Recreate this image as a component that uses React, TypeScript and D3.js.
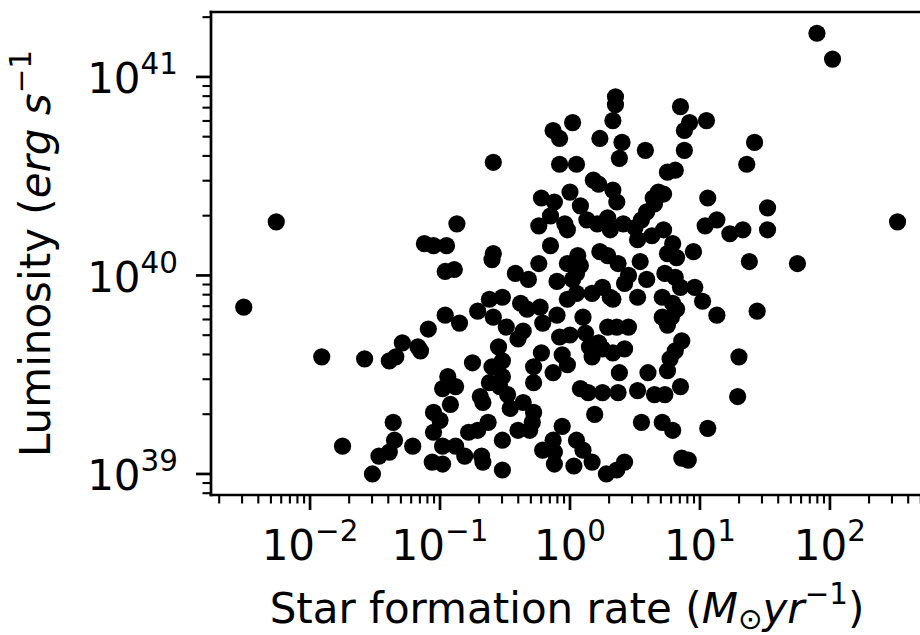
import React from 'react';
import * as d3 from 'd3';

// log10 of star formation rate (M_sun / yr)
const sfrLog10 = [
  -2.51, -2.26, -1.91, -1.75, -1.58, -1.52, -1.47, -1.39, -1.36, -1.35, -1.39, -1.34, -1.29,
  0.02, -0.13, -0.08, -0.59, -0.08, 0.05, -0.22, -0.12, 0.0, -0.15, -0.24, -0.04, -0.02, -0.87,
  -1.12, -1.05, -0.95, -0.15, -0.59, -0.6, -0.96, -0.89, -0.42, -0.24, -0.02, -0.32, -0.1, 0.02,
  -0.62, -0.52, -0.38, -0.71, -0.59, -0.49, -0.33, -0.23, -0.21, -0.1, -0.02, 0.05, -0.96, -0.85,
  -1.09, -1.17, -1.15, -0.4, -0.36, -0.08, 0.0, -0.22, -0.06, -0.13, -0.02, -0.55, -0.52, -0.6,
  -0.75, -0.28, -0.28, -0.94, -0.98, -0.88, -0.62, -0.54, -0.52, -0.69, -0.67, -0.48, -0.46, -0.36,
  -0.28, -0.29, -0.92, -1.05, -1.0, -1.05, -1.21, -0.98, -0.88, -0.81, -1.06, -0.98, -0.78, -0.71,
  -0.63, -0.68, -0.67, -0.52, -0.52, -0.4, -0.31, -0.06, -0.13, -0.21, -0.12, 0.03, -0.12,
  0.35, 0.35, 0.33, 0.23, 0.4, 0.38, 0.58, 0.85, 0.92, 1.05, 0.88, 0.88, 1.42, 1.36, 0.75, 0.81,
  0.18, 0.22, 0.33, 0.36, 0.68, 0.72, 0.64, 0.65, 0.59, 0.55, 0.08, 0.13, 0.21, 0.29, 0.31, 0.41,
  0.5, 0.52, 0.63, 0.72, 1.06, 1.04, 1.13, 1.23, 1.33, 1.52, 1.52,
  0.95, 0.79, 0.75, 0.82, 1.38, 0.23, 0.29, 0.37, 0.06, 0.08, 0.05, 0.54, 0.59, 0.45, 0.42, 0.73,
  0.81, 0.85, 0.96, 1.02, 1.13, 1.44, 0.25, 0.17, 0.31, 0.33, 0.52, 0.71, 0.79, 0.82, 0.71, 0.75,
  0.78, 0.1, 0.12, 0.15, 0.17, 0.29, 0.36, 0.45, 0.22, 0.25, 0.33, 0.42, 0.38, 0.6, 0.75, 0.77,
  0.81, 0.86, 1.3, 1.29, 0.08, 0.14, 0.25, 0.37, 0.52, 0.65, 0.73, 0.85, 0.19, 0.55, 0.71, 0.79,
  1.06, 0.05, 0.1, 0.17, 0.28, 0.36, 0.42, 0.86, 0.91,
  1.9, 2.02, 2.52, 1.75,
];

// log10 of luminosity (erg / s)
const lumLog10 = [
  39.84, 40.27, 39.59, 39.14, 39.58, 39.0, 39.09, 39.11, 39.26, 39.17, 39.57, 39.59, 39.66,
  40.77, 40.73, 40.69, 40.57, 40.56, 40.56, 40.39, 40.37, 40.42, 40.3, 40.25, 40.26, 40.23, 40.26,
  40.16, 40.15, 40.15, 40.15, 40.11, 40.08, 40.02, 40.03, 40.01, 40.06, 40.06, 39.98, 39.97, 39.98,
  39.88, 39.89, 39.86, 39.82, 39.79, 39.74, 39.83, 39.84, 39.76, 39.8, 39.88, 39.91, 39.8, 39.76,
  39.73, 39.64, 39.62, 39.68, 39.72, 39.69, 39.7, 39.61, 39.6, 39.51, 39.55, 39.64, 39.57, 39.54,
  39.56, 39.54, 39.46, 39.49, 39.43, 39.44, 39.46, 39.44, 39.49, 39.39, 39.36, 39.4, 39.33, 39.36,
  39.31, 39.26, 39.35, 39.31, 39.27, 39.21, 39.14, 39.14, 39.14, 39.09, 39.06, 39.05, 39.21, 39.22,
  39.26, 39.09, 39.06, 39.17, 39.02, 39.22, 39.22, 39.24, 39.17, 39.12, 39.05, 39.04, 39.11,
  40.9, 40.86, 40.78, 40.69, 40.67, 40.59, 40.63, 40.85, 40.77, 40.78, 40.73, 40.63, 40.67, 40.56,
  40.52, 40.53, 40.48, 40.46, 40.43, 40.37, 40.42, 40.41, 40.39, 40.36, 40.32, 40.28, 40.35, 40.28,
  40.26, 40.29, 40.23, 40.26, 40.24, 40.18, 40.2, 40.23, 40.39, 40.25, 40.28, 40.21, 40.23, 40.34,
  40.23,
  40.12, 40.16, 40.11, 40.09, 40.07, 40.12, 40.1, 40.06, 40.1, 40.05, 40.01, 40.07, 39.98, 40.0,
  39.96, 40.01, 39.99, 39.94, 39.94, 39.87, 39.8, 39.82, 39.94, 39.91, 39.89, 39.88, 39.89, 39.89,
  39.86, 39.83, 39.79, 39.75, 39.79, 39.79, 39.71, 39.64, 39.59, 39.74, 39.74, 39.74, 39.66, 39.63,
  39.61, 39.63, 39.51, 39.51, 39.52, 39.58, 39.62, 39.67, 39.59, 39.39, 39.43, 39.41, 39.41, 39.41,
  39.42, 39.4, 39.4, 39.44, 39.3, 39.26, 39.26, 39.22, 39.23, 39.17, 39.12, 39.06, 39.0, 39.02,
  39.06, 39.08, 39.07,
  41.22, 41.09, 40.27, 40.06,
];

const xTickExponents = [-2, -1, 0, 1, 2];
const yTickExponents = [39, 40, 41];

const FONT = "'DejaVu Sans', sans-serif";
const FS = 42;
const SUP = 29.4;

function fmtExp(e: number) {
  return e < 0 ? '\u2212' + Math.abs(e) : String(e);
}

export default function App() {
  const W = 920;
  const H = 635;
  const left = 211;
  const right = 923;
  const top = 12;
  const bottom = 495;

  const x = d3.scaleLog().domain([Math.pow(10, -2.762), Math.pow(10, 2.716)]).range([left, right]);
  const y = d3.scaleLog().domain([Math.pow(10, 38.894), Math.pow(10, 41.327)]).range([bottom, top]);

  const points = sfrLog10.map((v, i) => ({ sfr: Math.pow(10, v), lum: Math.pow(10, lumLog10[i]) }));

  const isMajor = (v: number) => Math.abs(Math.log10(v) - Math.round(Math.log10(v))) < 1e-9;
  const xTicks = x.ticks();
  const yTicks = y.ticks();

  return (
    <svg width={W} height={H} style={{ position: 'absolute', left: 0, top: 0, background: '#fff' }}>
      <rect x={0} y={0} width={W} height={H} fill="#fff" />
      <defs>
        <clipPath id="plotclip">
          <rect x={left} y={top} width={right - left} height={bottom - top} />
        </clipPath>
      </defs>

      <g clipPath="url(#plotclip)">
        {points.map((p, i) => (
          <circle key={i} cx={x(p.sfr)} cy={y(p.lum)} r={8.6} fill="#000" />
        ))}
      </g>

      {/* x ticks */}
      {xTicks.map((t, i) => {
        const major = isMajor(t);
        const px = x(t);
        return (
          <line key={'xt' + i} x1={px} x2={px} y1={bottom} y2={bottom + (major ? 15 : 8.5)}
            stroke="#000" strokeWidth={major ? 2.7 : 2.1} />
        );
      })}
      {/* y ticks */}
      {yTicks.map((t, i) => {
        const major = isMajor(t);
        const py = y(t);
        return (
          <line key={'yt' + i} x1={left} x2={left - (major ? 15 : 8.5)} y1={py} y2={py}
            stroke="#000" strokeWidth={major ? 2.7 : 2.1} />
        );
      })}

      {/* spines */}
      <line x1={left} x2={left} y1={top} y2={bottom} stroke="#000" strokeWidth={2.7} strokeLinecap="square" />
      <line x1={left} x2={right} y1={top} y2={top} stroke="#000" strokeWidth={2.7} strokeLinecap="square" />
      <line x1={left} x2={right} y1={bottom} y2={bottom} stroke="#000" strokeWidth={2.7} strokeLinecap="square" />
      <line x1={right} x2={right} y1={top} y2={bottom} stroke="#000" strokeWidth={2.7} />

      {/* x tick labels */}
      {xTickExponents.map((e) => (
        <text key={'xl' + e} x={x(Math.pow(10, e))} y={560} textAnchor="middle"
          fontFamily={FONT} fontSize={FS} fill="#000">
          10<tspan dy={-19} fontSize={SUP}>{fmtExp(e)}</tspan>
        </text>
      ))}

      {/* y tick labels */}
      {yTickExponents.map((e) => (
        <text key={'yl' + e} x={178} y={y(Math.pow(10, e)) + 16.5} textAnchor="end"
          fontFamily={FONT} fontSize={FS} fill="#000">
          10<tspan dy={-19} fontSize={SUP}>{fmtExp(e)}</tspan>
        </text>
      ))}

      {/* x axis label */}
      <text x={(left + right) / 2} y={623} textAnchor="middle" fontFamily={FONT} fontSize={FS} fill="#000">
        Star formation rate (<tspan fontStyle="italic">M</tspan>
        <tspan dy={6} fontSize={SUP}>{'\u2299'}</tspan>
        <tspan dy={-6} fontStyle="italic">yr</tspan>
        <tspan dy={-19} fontSize={SUP}>{'\u22121'}</tspan>
        <tspan dy={19}>)</tspan>
      </text>

      {/* y axis label (no closing parenthesis, as in the original) */}
      <text transform={`translate(50,${(top + bottom) / 2}) rotate(-90)`} textAnchor="middle"
        fontFamily={FONT} fontSize={FS} fill="#000">
        Luminosity (<tspan fontStyle="italic">erg s</tspan>
        <tspan dy={-19} fontSize={SUP}>{'\u22121'}</tspan>
      </text>
    </svg>
  );
}
